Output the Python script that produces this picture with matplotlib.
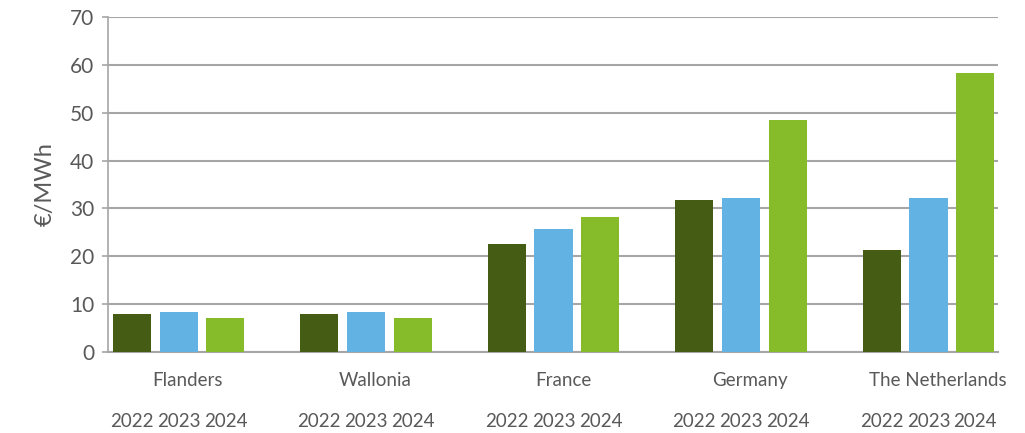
import numpy as np
import matplotlib
matplotlib.use("Agg")
import matplotlib.pyplot as plt

# data (EUR/MWh)
regions = ["Flanders", "Wallonia", "France", "Germany", "The Netherlands"]
years = ["2022", "2023", "2024"]
v2022 = [7.9, 7.9, 22.6, 31.8, 21.3]
v2023 = [8.4, 8.4, 25.7, 32.2, 32.2]
v2024 = [7.1, 7.1, 28.2, 48.5, 58.3]

colors = ["#445C14", "#62B3E3", "#86BC29"]
grey = "#595959"
grid_col = "#A6A6A6"

plt.rcParams["font.family"] = ["Lato", "DejaVu Sans"]

fig = plt.figure(figsize=(10.25, 4.33), dpi=100)
ax = fig.add_axes([0.1054, 0.187, 0.8683, 0.7737])

x = np.arange(len(regions))
step = 0.25
width = 0.203
for i, vals in enumerate([v2022, v2023, v2024]):
    ax.bar(x + (i - 1) * step, vals, width=width, color=colors[i], zorder=3)

ax.set_ylim(0, 70)
ax.set_yticks(range(0, 71, 10))
ax.set_xlim(-0.376, 4.371)

# year labels under each bar
pos = np.concatenate([x + (i - 1) * step for i in range(3)])
labs = [years[i] for i in range(3) for _ in x]
ax.set_xticks(pos, labels=labs)
ax.tick_params(axis="x", length=0, pad=44, labelsize=13.5, labelcolor=grey)
ax.tick_params(axis="y", length=4, width=1.2, color=grid_col, labelsize=15,
               labelcolor=grey, pad=6)

# region names
for xi, name in zip(x, regions):
    ax.text(xi + 0.05, -0.086, name, transform=ax.get_xaxis_transform(),
            ha="center", va="center", fontsize=13.5, color=grey)

ax.set_ylabel("€/MWh", fontsize=17, color=grey, labelpad=10)

ax.grid(axis="y", color=grid_col, linewidth=1.5, zorder=0)
for s in ["top", "right"]:
    ax.spines[s].set_visible(False)
ax.spines["left"].set_color(grid_col)
ax.spines["left"].set_linewidth(1.2)
ax.spines["bottom"].set_color(grid_col)
ax.spines["bottom"].set_linewidth(1.5)

fig.savefig("out.png", dpi=100)
